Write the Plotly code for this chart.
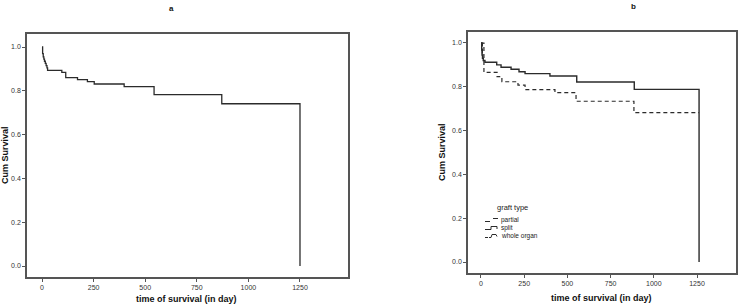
import plotly.graph_objects as go

W, H = 738, 306

# ---- data ----
# panel a: overall Kaplan-Meier curve
days_all = [0, 3, 6, 9, 12, 16, 20, 24, 27, 96, 115, 172, 220, 253, 398, 543, 871, 1250, 1250]
surv_all = [1.0, 0.97, 0.955, 0.945, 0.935, 0.925, 0.915, 0.905, 0.893, 0.884, 0.860, 0.851,
            0.842, 0.831, 0.819, 0.783, 0.741, 0.741, 0.0]

# panel b: by graft type
days_split = [0, 4, 6, 10, 13, 23, 91, 116, 174, 220, 255, 399, 554, 887, 1262, 1262]
surv_split = [1.0, 0.968, 0.945, 0.93, 0.92, 0.912, 0.900, 0.889, 0.880, 0.869, 0.860,
              0.849, 0.822, 0.788, 0.788, 0.0]

days_whole = [0, 17, 93, 121, 214, 255, 428, 550, 885, 1262]
surv_whole = [1.0, 0.866, 0.846, 0.823, 0.808, 0.787, 0.773, 0.734, 0.682, 0.682]

days_partial = [0, 8, 17]
surv_partial = [1.0, 0.93, 0.93]

x_ticks = [0, 250, 500, 750, 1000, 1250]
y_ticks = [0.0, 0.2, 0.4, 0.6, 0.8, 1.0]
legend_title = "graft type"
legend_names = ["partial", "split", "whole organ"]

panel_titles = ["a", "b"]
x_title = "time of survival (in day)"
y_title = "Cum Survival"

LINE = "#2b2b2b"
FRAME = "#555555"
FONT = "Liberation Sans, Arial, sans-serif"


def px(x):
    return x / W


def py(y):
    return 1 - y / H


fig = go.Figure()

fig.add_trace(go.Scatter(x=days_all, y=surv_all, mode="lines", line_shape="hv",
                         line=dict(color=LINE, width=1.3), xaxis="x", yaxis="y",
                         showlegend=False))
fig.add_trace(go.Scatter(x=days_whole, y=surv_whole, mode="lines", line_shape="hv",
                         line=dict(color=LINE, width=1.2, dash="4px,3px"), xaxis="x2", yaxis="y2",
                         name=legend_names[2], showlegend=False))
fig.add_trace(go.Scatter(x=days_partial, y=surv_partial, mode="lines", line_shape="hv",
                         line=dict(color=LINE, width=1.2, dash="5px,2px"), xaxis="x2", yaxis="y2",
                         name=legend_names[0], showlegend=False))
fig.add_trace(go.Scatter(x=days_split, y=surv_split, mode="lines", line_shape="hv",
                         line=dict(color=LINE, width=1.4), xaxis="x2", yaxis="y2",
                         name=legend_names[1], showlegend=False))

axis_common = dict(
    showgrid=False, zeroline=False, showline=True, mirror=True,
    linecolor=FRAME, linewidth=1.5, ticks="outside", ticklen=3, tickwidth=1,
    tickcolor=FRAME, tickfont=dict(family=FONT, size=7, color="#333333"),
)

fig.update_layout(
    width=W, height=H, autosize=False,
    margin=dict(l=0, r=0, t=0, b=0),
    paper_bgcolor="white", plot_bgcolor="white",
    xaxis=dict(domain=[px(27), px(348)], range=[-72.7, 1482.6], tickvals=x_ticks,
               anchor="y", **axis_common),
    yaxis=dict(domain=[py(277), py(34)], range=[-0.0502, 1.0594], tickvals=y_ticks,
               tickformat=".1f", anchor="x", **axis_common),
    xaxis2=dict(domain=[px(468), px(736)], range=[-75.2, 1475.7], tickvals=x_ticks,
                anchor="y2", **axis_common),
    yaxis2=dict(domain=[py(273), py(32)], range=[-0.0502, 1.0502], tickvals=y_ticks,
                tickformat=".1f", anchor="x2", **axis_common),
    showlegend=False,
)

ann = []


def add_text(x, y, text, size, color="#111111", xanchor="center", angle=0):
    ann.append(dict(x=px(x), y=py(y), xref="paper", yref="paper", showarrow=False,
                    xanchor=xanchor, yanchor="middle", text=text, textangle=angle,
                    font=dict(family=FONT, size=size, color=color)))


# panel titles
add_text(171, 8, "<b>%s</b>" % panel_titles[0], 8)
add_text(633, 6, "<b>%s</b>" % panel_titles[1], 8)
# axis titles
add_text(186, 299, "<b>%s</b>" % x_title, 9)
add_text(601, 298, "<b>%s</b>" % x_title, 9)
add_text(5, 155, "<b>%s</b>" % y_title, 9, angle=-90)
add_text(442, 152, "<b>%s</b>" % y_title, 9, angle=-90)
# legend texts
add_text(495, 207, legend_title, 7.5, color="#222222", xanchor="left")
for i, nm in enumerate(legend_names):
    add_text(499, 219.5 + 8 * i, nm, 6.5, color="#222222", xanchor="left")
fig.update_layout(annotations=ann)

# legend samples (small step glyphs)
shapes = []


def seg(x0, y0, x1, y1, dash="solid"):
    shapes.append(dict(type="line", xref="paper", yref="paper",
                       x0=px(x0), y0=py(y0), x1=px(x1), y1=py(y1),
                       line=dict(color=LINE, width=1, dash=dash)))


# partial: short low dash, raised dash
seg(485, 221.5, 490, 221.5)
seg(493, 218.5, 498, 218.5)
# split: solid step
seg(485, 229.5, 491, 229.5)
seg(491, 229.5, 491, 226.5)
seg(491, 226.5, 497, 226.5)
seg(497, 226.5, 497, 229)
# whole organ: dashed step
seg(485, 237.5, 488, 237.5)
seg(489, 237.5, 491, 237.5)
seg(491, 237.5, 492, 234.5)
seg(492, 234.5, 496, 234.5)
seg(496, 234.5, 497, 236.5)
fig.update_layout(shapes=shapes)

fig.write_html("out.html", config={"displayModeBar": False},
               post_script="document.body.style.margin='0px';document.body.style.overflow='hidden';")
